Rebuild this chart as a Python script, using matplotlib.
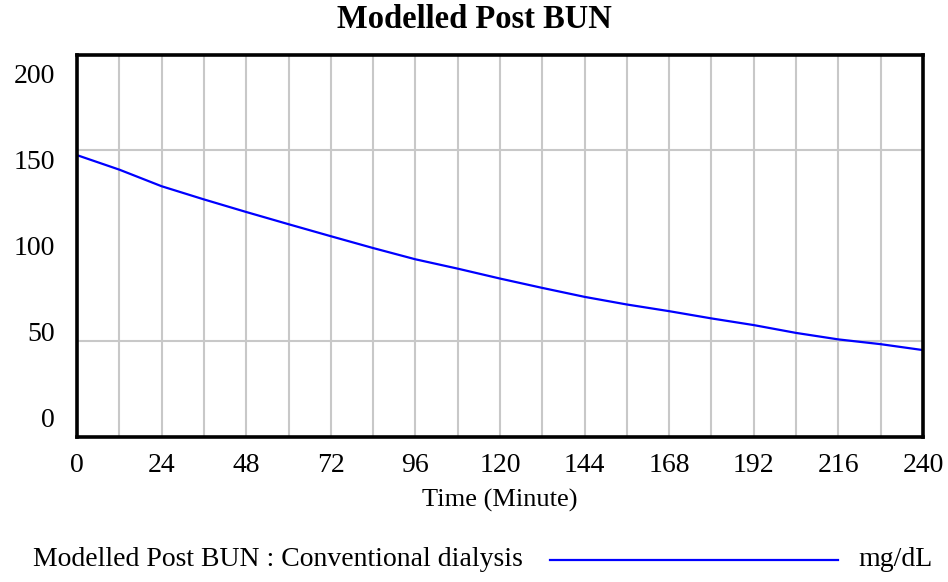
import numpy as np
import matplotlib.pyplot as plt
from matplotlib.lines import Line2D

# values, every 12 minutes
time_min = [0, 12, 24, 36, 48, 60, 72, 84, 96, 108, 120,
            132, 144, 156, 168, 180, 192, 204, 216, 228, 240]
post_bun = [147.5, 139.9, 131.2, 124.3, 117.7, 111.3, 105.0, 98.8, 92.9, 88.0, 82.8,
            77.9, 73.2, 69.2, 65.7, 61.9, 58.4, 54.3, 50.9, 48.4, 45.3]
x_labels = [0, 24, 48, 72, 96, 120, 144, 168, 192, 216, 240]
y_labels = ['0', '50', '100', '150', '200']
y_grid = [50, 100, 150]

plt.rcParams['font.family'] = ['Liberation Serif', 'DejaVu Serif']

fig = plt.figure(figsize=(9.48, 5.82), dpi=100)
ax = fig.add_axes([77/948, 1 - 436.5/582, 846/948, 381.5/582])

ax.plot(time_min, post_bun, color='#0000ff', lw=1.6)
ax.set_xlim(0, 240)
ax.set_ylim(0, 200)

ax.set_xticks(x_labels)
ax.set_xticks(np.arange(0, 241, 12), minor=True)
# vensim spreads the y labels evenly inside the box
ax.set_yticks(np.linspace(9.7, 190.3, 5))
ax.set_yticklabels(y_labels)
ax.set_yticks(y_grid, minor=True)
ax.grid(True, which='both', axis='x', color='#c8c8c8', lw=1.5)
ax.grid(True, which='minor', axis='y', color='#c8c8c8', lw=1.5)
ax.grid(False, which='major', axis='y')
ax.tick_params(which='both', length=0)
ax.tick_params(axis='x', pad=12, labelsize=20)
ax.tick_params(axis='y', pad=16, labelsize=20)
for s in ax.spines.values():
    s.set_linewidth(2.6)
    s.set_color('black')
ax.set_axisbelow(True)

ax.set_xlabel('Time (Minute)', fontsize=19, labelpad=8)
fig.text(0.5, 1 - 19/582, 'Modelled Post BUN', ha='center', va='center',
         fontsize=23.5, fontweight='bold')

# legend row
ly = 1 - 560/582
fig.text(33/948, ly, 'Modelled Post BUN : Conventional dialysis', ha='left', va='center', fontsize=20)
fig.add_artist(Line2D([550/948, 838/948], [ly, ly], color='#0000ff', lw=1.6))
fig.text(858/948, ly, 'mg/dL', ha='left', va='center', fontsize=20)

fig.savefig('out.png', dpi=100)
